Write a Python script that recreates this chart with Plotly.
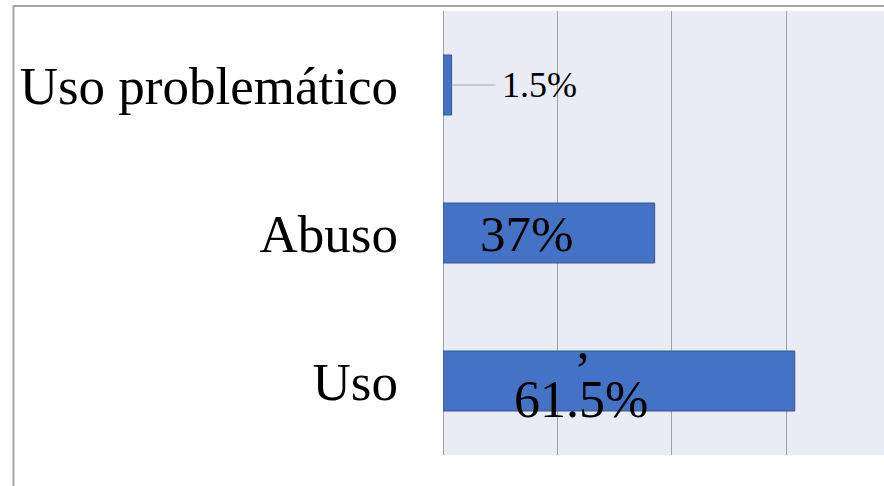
import plotly.graph_objects as go

categories = ["Uso", "Abuso", "Uso problemático"]
values = [61.5, 37, 1.5]
labels = ["61.5%", "37%", "1.5%"]

FONT = "Liberation Serif, Times New Roman, serif"
BAR = "#4472C4"
BAR_EDGE = "#2F5597"
GRID = "#A0A0A0"
BG = "#E9EBF5"

fig = go.Figure()
fig.add_trace(go.Bar(
    y=categories, x=values, orientation="h",
    marker=dict(color=BAR, line=dict(color=BAR_EDGE, width=1)),
    width=0.405, hoverinfo="skip",
))

# data labels
# 61.5% label (with stray apostrophe as in the original)
fig.add_annotation(x=values[0] * 0.392, y=categories[0], text=labels[0],
                   showarrow=False, yshift=-18,
                   font=dict(family=FONT, size=52, color="#000000"))
fig.add_annotation(x=values[0] * 0.397, y=categories[0], text="’",
                   showarrow=False, yshift=11,
                   font=dict(family=FONT, size=52, color="#000000"))
# 37% label
fig.add_annotation(x=values[1] * 0.395, y=categories[1], text=labels[1],
                   showarrow=False, yshift=-1,
                   font=dict(family=FONT, size=51, color="#000000"))
# 1.5% label with leader line
fig.add_annotation(x=values[2], y=categories[2], text=labels[2],
                   showarrow=True, arrowhead=0, arrowwidth=1, arrowcolor="#A6A6A6",
                   ax=88, ay=0, borderpad=6,
                   font=dict(family=FONT, size=36, color="#000000"))

fig.update_layout(
    width=884, height=486,
    margin=dict(l=443, r=0, t=11, b=31),
    paper_bgcolor="white", plot_bgcolor=BG,
    showlegend=False,
    bargap=0.6,
    xaxis=dict(range=[0, 77.1], dtick=20, showgrid=True, gridcolor=GRID, gridwidth=1,
               zeroline=True, zerolinecolor=GRID, zerolinewidth=1,
               showticklabels=False, showline=False, fixedrange=True),
    yaxis=dict(categoryorder="array", categoryarray=categories,
               range=[-0.5, 2.5], showgrid=False, zeroline=False, showline=False,
               tickfont=dict(family=FONT, size=53, color="#000000"),
               ticklabelstandoff=44, fixedrange=True),
    shapes=[dict(type="rect", xref="paper", yref="paper",
                 x0=(13.5 - 443) / 441, x1=1.2, y0=-0.3, y1=1 + (11 - 6) / 444,
                 line=dict(color="#A6A6A6", width=2), fillcolor="rgba(0,0,0,0)",
                 layer="below")],
)

fig.write_html(
    "out.html",
    config={"displayModeBar": False},
    post_script="document.body.style.margin='0';document.body.style.overflow='hidden';",
)
